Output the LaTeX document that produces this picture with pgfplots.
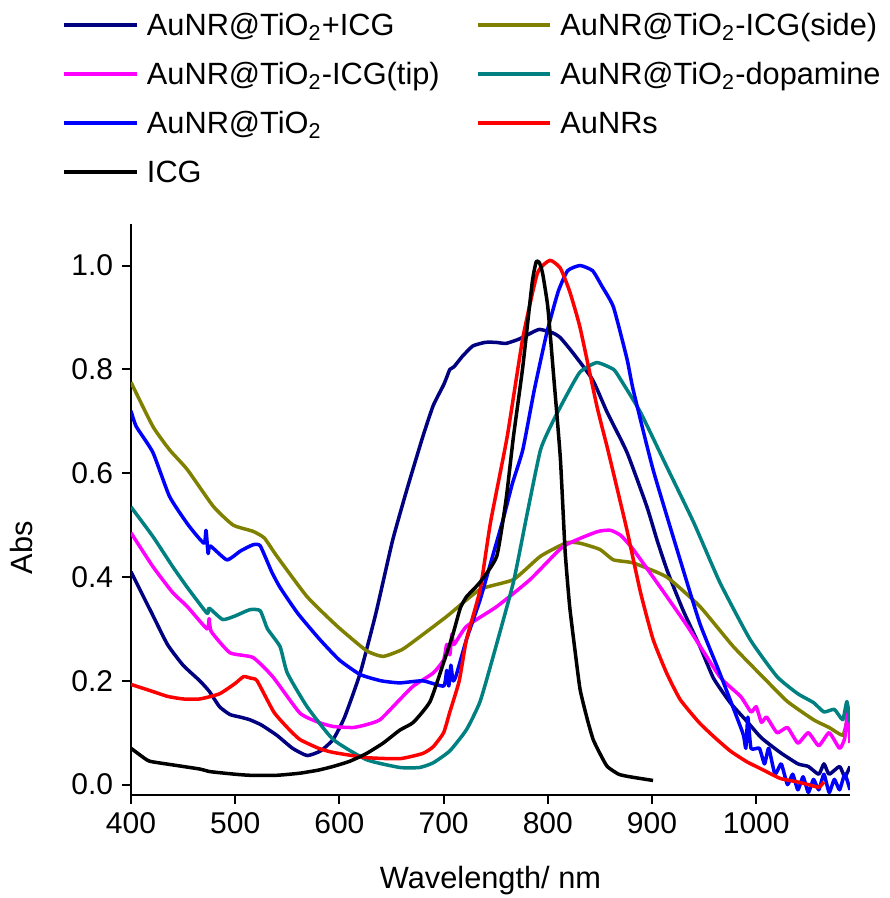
\documentclass[border=0pt]{standalone}
\usepackage{fontspec}
\setmainfont{Liberation Sans}
\usepackage{pgfplots}
\pgfplotsset{compat=1.18}
\definecolor{cnavy}{RGB}{0,0,128}
\definecolor{colive}{RGB}{128,128,0}
\definecolor{cteal}{RGB}{0,128,128}
\definecolor{cmag}{RGB}{255,0,255}
\definecolor{cblue}{RGB}{0,0,255}
\definecolor{cred}{RGB}{255,0,0}
\begin{document}
\begin{tikzpicture}
\path[use as bounding box] (-52.4pt,-41.2pt) rectangle (303.6pt,318pt);
\begin{axis}[
  at={(0,0)}, anchor=south west,
  scale only axis, width=287.6pt, height=228.4pt,
  xmin=400, xmax=1090, ymin=-0.02, ymax=1.08,
  axis lines*=left,
  axis line style={line width=0.8pt},
  tick align=outside, major tick length=3.6pt,
  tick style={line width=0.8pt, black},
  xtick={400,500,600,700,800,900,1000},
  ytick={0,0.2,0.4,0.6,0.8,1.0},
  yticklabel style={/pgf/number format/.cd, fixed, fixed zerofill, precision=1},
  xticklabel style={/pgf/number format/.cd, 1000 sep={}},
  tick label style={font=\fontsize{12}{14}\selectfont},
  /pgf/number format/assume math mode=true,
  xlabel={Wavelength/ nm}, ylabel={Abs},
  label style={font=\fontsize{12.3}{14}\selectfont},
  xlabel style={at={(axis description cs:0.5,-0.149)}, anchor=center},
  ylabel style={at={(axis description cs:-0.1516,0.433)}, anchor=center},
  no markers,
  every axis plot/.append style={line width=1.4pt, smooth, tension=0.3, line join=round},
  legend columns=2,
  legend cell align=left,
  legend image code/.code={\draw[#1, line width=1.6pt, sharp plot] (0pt,0pt) -- (29pt,0pt);},
  legend style={draw=none, fill=none, at={(axis description cs:-0.096,1.379)}, anchor=north west,
    inner sep=0pt, column sep=0pt, row sep=6.4pt,
    font=\fontsize{12.3}{14}\selectfont,
    nodes={inner xsep=3.2pt, inner ysep=0pt, text height=11pt, text depth=2.2pt}},
]
% AuNR@TiO2+ICG
\addplot[cnavy] coordinates {(400,0.41)(410,0.37)(420,0.33)(435,0.27)(450,0.23)(466,0.20)(475,0.18)(485,0.15)(495,0.135)(505,0.13)(514,0.125)(525,0.115)(540,0.095)(555,0.07)(569,0.056)(582,0.065)(594,0.087)(605,0.13)(620,0.215)(635,0.33)(651,0.47)(665,0.57)(680,0.67)(690,0.73)(700,0.77)(704,0.79)(706,0.80)(710,0.805)(718,0.825)(728,0.845)(740,0.852)(750,0.852)(760,0.85)(772,0.858)(782,0.868)(792,0.877)(805,0.87)(812,0.861)(824,0.832)(843,0.78)(857,0.717)(876,0.64)(895,0.536)(905,0.47)(915,0.41)(930,0.335)(946,0.266)(959,0.205)(975,0.158)(991,0.122)(1005,0.09)(1023,0.062)(1040,0.04)(1050,0.035)(1060,0.02)(1065,0.04)(1070,0.02)(1080,0.035)(1085,0.015)(1090,0.035)};
\addlegendentry{\makebox[128.4pt][l]{AuNR@TiO\textsubscript{2}+ICG}}
% AuNR@TiO2-ICG(side)
\addplot[colive] coordinates {(400,0.775)(421,0.69)(437,0.645)(454,0.607)(479,0.536)(498,0.50)(517,0.488)(528,0.475)(540,0.44)(569,0.362)(598,0.305)(626,0.258)(642,0.247)(660,0.26)(674,0.28)(703,0.324)(735,0.376)(767,0.395)(793,0.44)(818,0.466)(831,0.465)(850,0.453)(863,0.433)(882,0.427)(914,0.40)(946,0.343)(978,0.266)(1010,0.2)(1030,0.16)(1055,0.125)(1070,0.11)(1083,0.095)(1087,0.12)(1090,0.10)};
\addlegendentry{AuNR@TiO\textsubscript{2}-ICG(side)}
% AuNR@TiO2-ICG(tip)
\addplot[cmag] coordinates {(400,0.485)(421,0.42)(440,0.37)(454,0.343)(473,0.30)(475,0.32)(477,0.295)(495,0.254)(517,0.245)(536,0.208)(562,0.138)(580,0.12)(594,0.112)(613,0.11)(625,0.115)(639,0.125)(658,0.164)(671,0.19)(690,0.215)(700,0.24)(703,0.27)(706,0.25)(708,0.29)(710,0.27)(722,0.305)(751,0.343)(783,0.395)(815,0.459)(847,0.487)(860,0.49)(870,0.48)(882,0.453)(908,0.38)(934,0.305)(965,0.208)(985,0.17)(995,0.14)(1000,0.15)(1005,0.12)(1010,0.13)(1020,0.10)(1030,0.11)(1040,0.08)(1050,0.10)(1060,0.075)(1070,0.10)(1080,0.07)(1085,0.09)(1088,0.15)(1090,0.08)};
\addlegendentry{\makebox[128.4pt][l]{AuNR@TiO\textsubscript{2}-ICG(tip)}}
% AuNR@TiO2-dopamine
\addplot[cteal] coordinates {(400,0.535)(421,0.478)(440,0.42)(454,0.38)(473,0.33)(475,0.34)(488,0.318)(500,0.325)(514,0.337)(524,0.335)(531,0.30)(543,0.266)(550,0.215)(569,0.15)(594,0.087)(626,0.048)(658,0.033)(677,0.033)(690,0.042)(706,0.065)(722,0.106)(735,0.16)(748,0.25)(767,0.39)(780,0.52)(793,0.645)(805,0.70)(818,0.75)(831,0.795)(847,0.813)(863,0.80)(870,0.78)(889,0.717)(914,0.613)(940,0.505)(965,0.39)(994,0.28)(1020,0.208)(1040,0.175)(1055,0.158)(1065,0.14)(1075,0.145)(1083,0.125)(1087,0.16)(1090,0.12)};
\addlegendentry{AuNR@TiO\textsubscript{2}-dopamine}
% AuNR@TiO2
\addplot[cblue] coordinates {(400,0.72)(405,0.69)(421,0.64)(437,0.555)(455,0.50)(470,0.465)(472,0.49)(474,0.445)(476,0.46)(492,0.433)(505,0.45)(517,0.462)(524,0.46)(535,0.41)(543,0.38)(560,0.33)(581,0.28)(600,0.24)(620,0.212)(640,0.20)(658,0.196)(680,0.20)(700,0.19)(703,0.22)(705,0.19)(707,0.23)(709,0.20)(712,0.21)(722,0.28)(735,0.356)(747,0.44)(757,0.51)(766,0.58)(776,0.645)(787,0.76)(799,0.87)(810,0.95)(819,0.99)(831,1.0)(843,0.99)(852,0.96)(863,0.92)(876,0.82)(882,0.76)(901,0.607)(927,0.433)(946,0.31)(965,0.215)(987,0.10)(990,0.07)(992,0.13)(995,0.07)(1003,0.07)(1008,0.04)(1012,0.07)(1018,0.02)(1024,0.04)(1030,0.0)(1035,0.02)(1040,-0.01)(1045,0.015)(1050,-0.015)(1055,0.01)(1060,-0.01)(1065,0.02)(1070,-0.015)(1075,0.01)(1080,-0.01)(1085,0.02)(1090,-0.01)};
\addlegendentry{\makebox[128.4pt][l]{AuNR@TiO\textsubscript{2}}}
% AuNRs
\addplot[cred] coordinates {(400,0.193)(420,0.18)(435,0.17)(450,0.165)(466,0.165)(485,0.175)(500,0.195)(508,0.208)(515,0.205)(521,0.20)(537,0.14)(550,0.11)(562,0.087)(580,0.07)(594,0.062)(626,0.052)(658,0.05)(680,0.06)(690,0.073)(700,0.10)(706,0.14)(715,0.20)(722,0.28)(735,0.375)(745,0.505)(761,0.67)(776,0.86)(790,0.985)(802,1.01)(812,0.995)(821,0.95)(831,0.88)(847,0.73)(857,0.65)(863,0.60)(876,0.49)(889,0.37)(901,0.28)(914,0.215)(927,0.164)(945,0.12)(959,0.093)(975,0.065)(991,0.044)(1005,0.03)(1023,0.012)(1040,0.005)(1050,0.0)(1060,-0.005)(1065,0.005)};
\addlegendentry{AuNRs}
% ICG
\addplot[black] coordinates {(400,0.07)(410,0.055)(418,0.045)(440,0.038)(466,0.03)(476,0.025)(500,0.02)(514,0.018)(540,0.018)(562,0.022)(580,0.028)(594,0.035)(610,0.045)(626,0.06)(642,0.08)(658,0.105)(671,0.12)(687,0.16)(700,0.235)(709,0.29)(716,0.34)(722,0.362)(735,0.39)(751,0.44)(760,0.55)(767,0.67)(776,0.805)(785,0.967)(789,1.008)(792,1.005)(795,0.985)(800,0.92)(805.5,0.79)(812,0.63)(816.6,0.45)(821,0.343)(826,0.26)(831,0.183)(838,0.125)(843.5,0.087)(850,0.06)(857,0.035)(868,0.02)(879,0.015)(901,0.008)};
\addlegendentry{ICG}
\end{axis}
\end{tikzpicture}
\end{document}
